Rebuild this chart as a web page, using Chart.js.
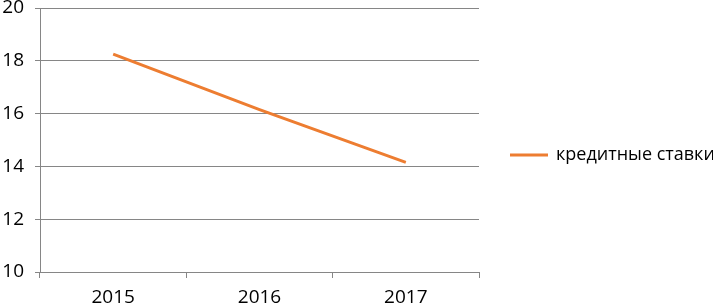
<!DOCTYPE html>
<html>
<head>
<meta charset="utf-8">
<script src="https://cdn.jsdelivr.net/npm/chart.js@4"></script>
<style>
  html, body { margin: 0; padding: 0; background: #fff; font-family: 'Open Sans'; }
  #wrap { width: 713px; height: 306px; }
</style>
</head>
<body>
<div id="wrap"><canvas id="chart" width="713" height="306"></canvas></div>
<script>
// данные графика
const years = ['2015', '2016', '2017'];
const rates = [18.25, 16.15, 14.15];
const seriesName = 'кредитные ставки';

const orange = '#ED7D31';
const gridGray = '#868686';
const font = { family: 'Open Sans', size: 19 };

// легенда справа, как в Excel: короткая линия + подпись
const sideLegend = {
    id: 'sideLegend',
    afterDraw(chart) {
        const ctx = chart.ctx;
        const area = chart.chartArea;
        const ds = chart.data.datasets[0];
        const y = (area.top + area.bottom) / 2 + 15;
        const x0 = area.right + 31;
        ctx.save();
        ctx.strokeStyle = ds.borderColor;
        ctx.lineWidth = 3;
        ctx.beginPath();
        ctx.moveTo(x0, y);
        ctx.lineTo(x0 + 38, y);
        ctx.stroke();
        ctx.fillStyle = '#000';
        ctx.font = '18px "' + font.family + '"';
        ctx.textBaseline = 'middle';
        ctx.fillText(ds.label, x0 + 46, y);
        ctx.restore();
    }
};

function draw() {
    new Chart(document.getElementById('chart').getContext('2d'), {
        type: 'line',
        data: {
            labels: years,
            datasets: [{
                label: seriesName,
                data: rates,
                borderColor: orange,
                backgroundColor: orange,
                borderWidth: 3,
                pointRadius: 0,
                tension: 0
            }]
        },
        options: {
            responsive: false,
            animation: false,
            layout: { padding: { top: 8, right: 234, left: 0, bottom: 0 } },
            plugins: {
                legend: { display: false },
                tooltip: { enabled: false }
            },
            scales: {
                x: {
                    offset: true,
                    grid: { offset: true, drawOnChartArea: false, color: gridGray, tickLength: 6 },
                    border: { color: gridGray },
                    ticks: { font: font, color: '#000', padding: 8 },
                    afterFit: (s) => { s.height = 34; }
                },
                y: {
                    min: 10,
                    max: 20,
                    ticks: { stepSize: 2, font: font, color: '#000', padding: 11 },
                    grid: { color: gridGray, tickLength: 5 },
                    border: { color: gridGray },
                    afterFit: (s) => { s.width = 40; s.paddingTop = 0; s.paddingBottom = 0; }
                }
            }
        },
        plugins: [sideLegend]
    });
}

document.fonts.load('19px "Open Sans"', seriesName).then(draw, draw);
</script>
</body>
</html>
